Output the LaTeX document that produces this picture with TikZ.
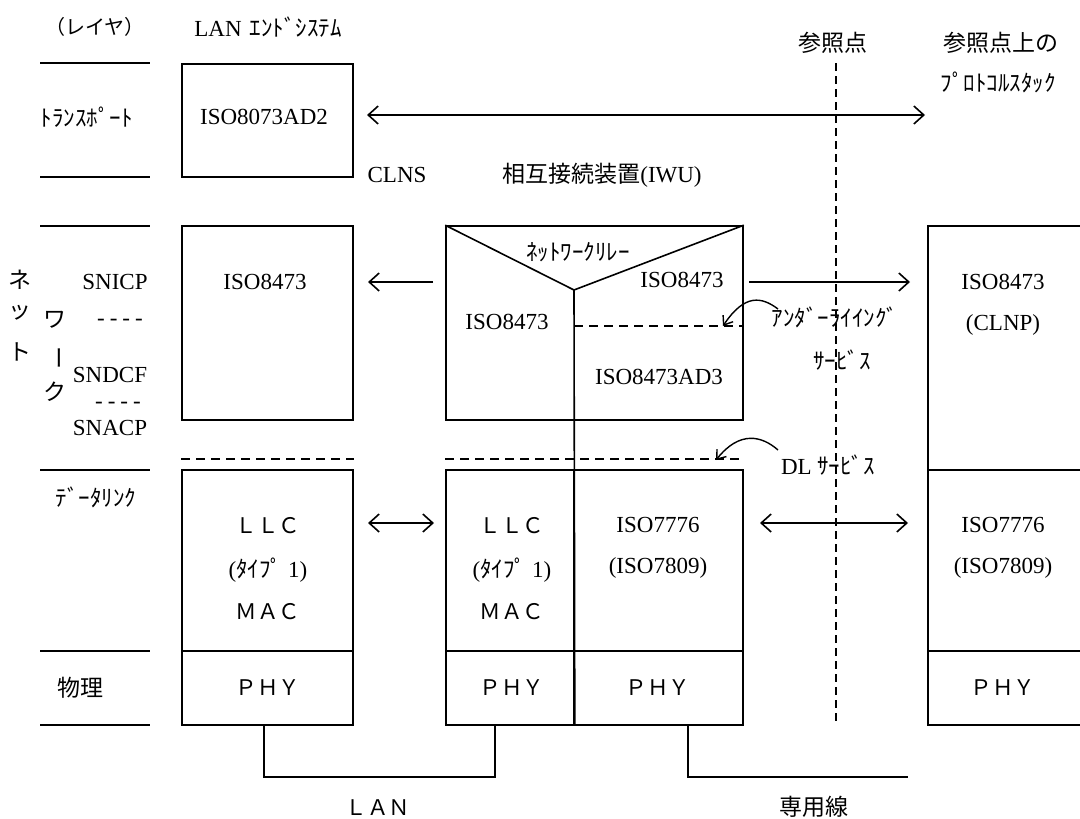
\documentclass[tikz,border=0pt]{standalone}
\usepackage{fontspec}
\setmainfont{Liberation Serif}
\newfontfamily\jpfont{Noto Sans CJK JP}
\usepackage{tikz}
\usetikzlibrary{arrows.meta}
\newcommand\txsize{\fontsize{23}{27}\selectfont}
\newcommand\jptx{\jpfont\fontsize{23}{27}\selectfont}
\newcommand\fwtx{\jpfont\fontsize{21.5}{26}\selectfont}
\tikzset{
  box/.style={draw,line width=1.6pt,inner sep=0pt},
  lay/.style={line width=1.5pt},
  dsh/.style={line width=1.5pt,dash pattern=on 9pt off 6pt},
  refl/.style={line width=1.3pt,dash pattern=on 8pt off 5pt},
  ar/.style={-{Straight Barb[length=10pt,width=18pt]},line width=1.6pt},
  arr/.style={{Straight Barb[length=10pt,width=18pt]}-{Straight Barb[length=10pt,width=18pt]},line width=1.6pt},
  cv/.style={-{Straight Barb[length=8pt,width=12pt]},line width=1.4pt},
  tx/.style={font=\txsize,inner sep=0pt},
  jp/.style={font=\jptx,inner sep=0pt},
  fw/.style={font=\fwtx,inner sep=0pt}
}
\begin{document}
\begin{tikzpicture}[x=1pt,y=-1pt]
\clip (0,0) rectangle (1080,819);
% layer column
\foreach \y in {63,177,226,470,651,725}{\draw[lay] (40,\y) -- (150,\y);}
\node[jp,font=\jpfont\fontsize{20}{24}\selectfont] (lyr) at (95,27) {（レイヤ）};
\node[tx] (les) at (268,27) {LAN\hspace{8pt}{\jptx ｴﾝﾄﾞｼｽﾃﾑ}};
\node[jp] (trp) at (87,117) {ﾄﾗﾝｽﾎﾟｰﾄ};
\node[jp] (nw1) at (20,280) {ネ};
\node[jp] (nw2) at (20,313) {ッ};
\node[jp] (nw3) at (20,352) {ト};
\node[jp] (nw4) at (55,320) {ワ};
\node[jp,rotate=-90] (nw5) at (55,358) {ー};
\node[jp] (nw6) at (55,392) {ク};
\node[tx] (snicp) at (115,282) {SNICP};
\node[tx] (sep1) at (120,322) {-{}\kern5pt-{}\kern5pt-{}\kern5pt-};
\node[tx] (sndcf) at (110,375) {SNDCF};
\node[tx] (sep2) at (118,405) {-{}\kern5pt-{}\kern5pt-{}\kern5pt-};
\node[tx] (snacp) at (110,428) {SNACP};
\node[jp] (dlk) at (96,497) {ﾃﾞｰﾀﾘﾝｸ};
\node[jp] (phys) at (80,688) {物理};
% LAN end system
\node[box,minimum width=171pt,minimum height=113pt] (tp) at (267.5,120.5) {};
\node[box,minimum width=171pt,minimum height=194pt] (nl) at (267.5,323) {};
\node[box,minimum width=171pt,minimum height=181pt] (dl) at (267.5,560.5) {};
\node[box,minimum width=171pt,minimum height=74pt] (pl) at (267.5,688) {};
\node[tx] (tpt) at (264,117) {ISO8073AD2};
\node[tx] (nlt) at (265,282) {ISO8473};
% IWU
\node[box,minimum width=297pt,minimum height=194pt] (iw) at (594.5,323) {};
\node[box,minimum width=128pt,minimum height=181pt] (dm1) at (510,560.5) {};
\node[box,minimum width=169pt,minimum height=181pt] (dm2) at (658.5,560.5) {};
\node[box,minimum width=128pt,minimum height=74pt] (pm1) at (510,688) {};
\node[box,minimum width=169pt,minimum height=74pt] (pm2) at (658.5,688) {};
\coordinate (apex) at (574,290);
\draw[line width=1.6pt] (iw.north west) -- (apex) -- (iw.north east);
\draw[line width=1.6pt] (apex) -- (pm1.south east);
\coordinate (ud) at (574,326);
\draw[dsh] (ud) -- (ud -| iw.east);
\node[jp] (relay) at (578,252) {ﾈｯﾄﾜｰｸﾘﾚｰ};
\node[tx] (iwl) at (507,322) {ISO8473};
\node[tx] (iwr) at (682,280) {ISO8473};
\node[tx] (iwad) at (659,377) {ISO8473AD3};
\node[tx] (clns) at (397,175) {CLNS};
\node[tx] (iwu) at (602,175) {{\jptx 相互接続装置}(IWU)};
% reference point stack
\node[box,minimum width=172pt,minimum height=244pt] (rn) at (1014,348) {};
\node[box,minimum width=172pt,minimum height=181pt] (rd) at (1014,560.5) {};
\node[box,minimum width=172pt,minimum height=74pt] (rp) at (1014,688) {};
\node[tx] (rnt1) at (1003,282) {ISO8473};
\node[tx] (rnt2) at (1003,325) {(CLNP)};
\node[jp] (ref) at (833,43) {参照点};
\node[jp] (refs1) at (1001,43) {参照点上の};
\node[jp] (refs2) at (998,82) {ﾌﾟﾛﾄｺﾙｽﾀｯｸ};
\coordinate (rf1) at (836,63);
\coordinate (rf2) at (836,723);
\draw[refl] (rf1) -- (rf2);
% data link and physical texts
\foreach \c/\n in {268/l,512/m}{
  \node[fw] (llc\n) at (\c,526) {ＬＬＣ};
  \node[tx] (typ\n) at (\c,570) {({\jptx ﾀｲﾌﾟ} 1)};
  \node[fw] (mac\n) at (\c,612) {ＭＡＣ};
  \node[fw] (phy\n) at (\c,688) {ＰＨＹ};
}
\foreach \c/\n in {658/h,1003/r}{
  \node[tx] (hd\n) at (\c,525) {ISO7776};
  \node[tx] (hx\n) at (\c,568) {(ISO7809)};
  \node[fw] (phy\n) at (\c,688) {ＰＨＹ};
}
\draw[dsh] ([yshift=10pt]dl.north west) -- ([yshift=10pt]dl.north east);
\draw[dsh] ([yshift=10pt]dm1.north west) -- ([yshift=10pt]dm2.north east);
% services
\node[jp] (us1) at (835,317) {ｱﾝﾀﾞｰﾗｲｲﾝｸﾞ};
\node[jp] (us2) at (842,360) {ｻｰﾋﾞｽ};
\node[tx] (dls) at (828,465) {DL {\jptx ｻｰﾋﾞｽ}};
\coordinate (ua) at (778,309);
\coordinate (ub) at (723,326);
\draw[cv] (ua) .. controls (762,297) and (745,293) .. (ub);
\coordinate (da) at (778,450);
\coordinate (db) at (716,460);
\draw[cv] (da) .. controls (762,436) and (740,430) .. (db);
% peer arrows
\coordinate (ta) at (367,115);
\coordinate (tb) at (925,115);
\draw[arr] (ta) -- (tb);
\coordinate (nla) at (433,282);
\coordinate (nlb) at (368,282);
\draw[ar] (nla) -- (nlb);
\coordinate (nra) at (749,282);
\coordinate (nrb) at (910,282);
\draw[ar] (nra) -- (nrb);
\coordinate (dla) at (368,523);
\coordinate (dlb) at (434,523);
\draw[arr] (dla) -- (dlb);
\coordinate (dra) at (760,523);
\coordinate (drb) at (908,523);
\draw[arr] (dra) -- (drb);
% lines
\coordinate (lanc) at (380,777);
\draw[lay] ([xshift=-3.5pt]pl.south) |- (lanc) -| ([xshift=-15pt]pm1.south);
\coordinate (lle) at (908,777);
\draw[lay] ([xshift=29.5pt]pm2.south) |- (lle);
\node[fw] (lan) at (378,808) {ＬＡＮ};
\node[jp] (sen) at (814,807) {専用線};
\end{tikzpicture}
\end{document}
